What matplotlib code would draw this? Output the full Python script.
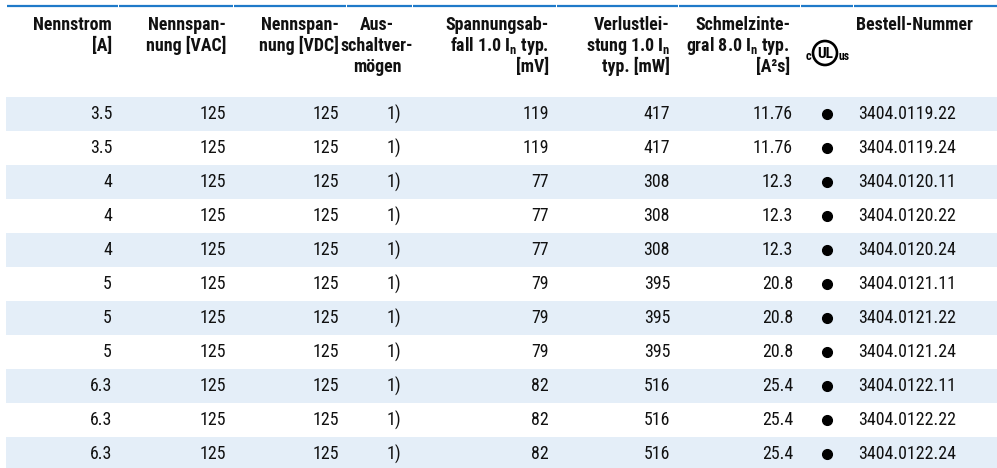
import matplotlib
matplotlib.use("Agg")
import matplotlib.pyplot as plt
from matplotlib import font_manager as fm
from matplotlib.patches import Rectangle, Circle

# ---------------- data ----------------
nennstrom = ["3.5", "3.5", "4", "4", "4", "5", "5", "5", "6.3", "6.3", "6.3"]
nennspannung_vac = [125, 125, 125, 125, 125, 125, 125, 125, 125, 125, 125]
nennspannung_vdc = [125, 125, 125, 125, 125, 125, 125, 125, 125, 125, 125]
ausschaltvermoegen = ["1)", "1)", "1)", "1)", "1)", "1)", "1)", "1)", "1)", "1)", "1)"]
spannungsabfall = [119, 119, 77, 77, 77, 79, 79, 79, 82, 82, 82]
verlustleistung = [417, 417, 308, 308, 308, 395, 395, 395, 516, 516, 516]
schmelzintegral = ["11.76", "11.76", "12.3", "12.3", "12.3", "20.8", "20.8", "20.8",
                   "25.4", "25.4", "25.4"]
ul_approved = [True, True, True, True, True, True, True, True, True, True, True]
bestell_nummer = ["3404.0119.22", "3404.0119.24", "3404.0120.11", "3404.0120.22",
                  "3404.0120.24", "3404.0121.11", "3404.0121.22", "3404.0121.24",
                  "3404.0122.11", "3404.0122.22", "3404.0122.24"]

headers = [
    ["Nennstrom", "[A]"],
    ["Nennspan-", "nung [VAC]"],
    ["Nennspan-", "nung [VDC]"],
    ["Aus-", "schaltver-", "mögen"],
    ["Spannungsab-", r"fall 1.0 I${}_{\mathrm{n}}$ typ.", "[mV]"],
    ["Verlustlei-", r"stung 1.0 I${}_{\mathrm{n}}$", "typ. [mW]"],
    ["Schmelzinte-", r"gral 8.0 I${}_{\mathrm{n}}$ typ.", "[A²s]"],
    [],
    ["Bestell-Nummer"],
]

# ---------------- fonts: prefer a condensed sans ----------------
entries = [(f.name, f.stretch, f.fname) for f in fm.fontManager.ttflist]
FONT, STRETCH, FS = "Liberation Sans", "normal", 11.3
prefs = [("Liberation Sans Narrow", None), ("Roboto Condensed", None),
         ("Open Sans Condensed", None), ("Noto Sans Condensed", None),
         ("Noto Sans", "condensed"), ("Noto Sans", "semi-condensed"),
         ("DejaVu Sans", "condensed"), ("DejaVu Sans", "semi-condensed")]
found = False
for name, st in prefs:
    for n, s, p in entries:
        if n == name and (st is None or str(s) == st):
            FONT = name
            STRETCH = st if st else "normal"
            FS = 13.5 if "Liberation" in name else 12.9
            found = True
            break
    if found:
        break

plt.rcParams["font.family"] = [FONT, "DejaVu Sans"]
plt.rcParams["font.stretch"] = STRETCH
plt.rcParams["mathtext.fontset"] = "custom"
plt.rcParams["mathtext.rm"] = FONT + ":bold"
plt.rcParams["mathtext.it"] = FONT + ":bold"
plt.rcParams["mathtext.bf"] = FONT + ":bold"

W, H = 997, 468
fig = plt.figure(figsize=(W / 100, H / 100), dpi=100)
ax = fig.add_axes([0, 0, 1, 1])
ax.set_xlim(0, W)
ax.set_ylim(H, 0)
ax.axis("off")

BLUE = "#1f7ac9"
BAND = "#e4eef8"
TXT = "#111111"

# column boundaries (for top rule segments)
col_edges = [6, 118, 233, 346, 412, 556, 678, 800, 853, 997]
for a, b in zip(col_edges[:-1], col_edges[1:]):
    ax.plot([a + 0.5, b - 0.5], [6, 6], color=BLUE, lw=1.6, solid_capstyle="butt")

# header anchors: (x, ha)
header_pos = [(112, "right"), (226, "right"), (339, "right"), (377, "center"),
              (549, "right"), (670, "right"), (790, "right"), (0, "center"),
              (856, "left")]
baselines = [30, 51, 72]
for (x, ha), lines in zip(header_pos, headers):
    for i, t in enumerate(lines):
        ax.text(x, baselines[i], t, ha=ha, va="baseline", fontsize=FS,
                fontweight="bold", color=TXT, fontstretch=STRETCH)

# UL logo
cx, cy, r = 825, 53, 12
ax.add_patch(Circle((cx, cy), r, fill=False, ec="black", lw=1.9))
ax.text(cx, cy + 0.5, "UL", ha="center", va="center", fontsize=11,
        fontweight="bold", color="black")
ax.text(cx - r - 1.5, cy + 3, "c", ha="right", va="center", fontsize=9,
        fontweight="bold", color="black")
ax.text(cx + r + 1, cy + 3, "us", ha="left", va="center", fontsize=8.5,
        fontweight="bold", color="black")

# rows
row_top0 = 97
row_h = 34
for i in range(len(nennstrom)):
    top = row_top0 + i * row_h
    if i % 2 == 0:
        ax.add_patch(Rectangle((6, top), W - 6, row_h, color=BAND, lw=0, zorder=0))
    y = top + row_h / 2
    kw = dict(va="center", fontsize=FS, color=TXT, fontstretch=STRETCH)
    ax.text(112, y, nennstrom[i], ha="right", **kw)
    ax.text(226, y, str(nennspannung_vac[i]), ha="right", **kw)
    ax.text(339, y, str(nennspannung_vdc[i]), ha="right", **kw)
    ax.text(387, y, ausschaltvermoegen[i], ha="left", **kw)
    ax.text(549, y, str(spannungsabfall[i]), ha="right", **kw)
    ax.text(670, y, str(verlustleistung[i]), ha="right", **kw)
    ax.text(793, y, schmelzintegral[i], ha="right", **kw)
    if ul_approved[i]:
        ax.plot([827], [y], "o", color="black", ms=7)
    ax.text(858, y, bestell_nummer[i], ha="left", **kw)

fig.savefig("out.png", dpi=100)
